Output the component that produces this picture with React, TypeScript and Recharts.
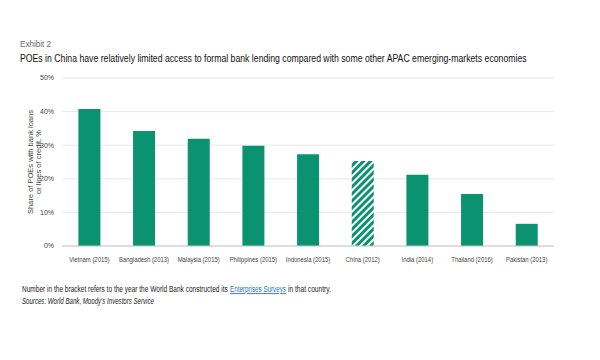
import React, { useLayoutEffect, useRef, useState } from 'react';
import { BarChart, Bar, XAxis, YAxis, CartesianGrid, Cell, Label } from 'recharts';

const countries = [
  'Vietnam (2015)',
  'Bangladesh (2013)',
  'Malaysia (2015)',
  'Philippines (2015)',
  'Indonesia (2015)',
  'China (2012)',
  'India  (2014)',
  'Thailand (2016)',
  'Pakistan (2013)',
];
const shares = [40.8, 34.2, 31.9, 29.8, 27.3, 25.3, 21.2, 15.5, 6.6];
const yTicks = [0, 10, 20, 30, 40, 50];
const highlight = 'China (2012)';

const GREEN = '#0a9271';
const sans = 'Liberation Sans, Arial, sans-serif';

const data = countries.map((name, i) => ({ name, share: shares[i] }));

// squeezes a text horizontally to a given width (the original uses a condensed face)
function FitText({ x, y, width, children, ...rest }: any) {
  const ref = useRef<SVGTextElement>(null);
  const [k, setK] = useState(1);
  useLayoutEffect(() => {
    if (ref.current) {
      const w = ref.current.getComputedTextLength();
      if (w > 0) setK(width / w);
    }
  }, [width]);
  return (
    <g transform={`translate(${x},${y}) scale(${k},1)`}>
      <text ref={ref} x={0} y={0} {...rest}>
        {children}
      </text>
    </g>
  );
}

function AxisTitle(props: any) {
  const { viewBox } = props;
  const cy = viewBox.y + viewBox.height / 2;
  const x = 36;
  return (
    <text
      transform={`rotate(-90, ${x}, ${cy})`}
      x={x}
      y={cy}
      textAnchor="middle"
      fontSize={7.5}
      fill="#444"
      fontFamily={sans}
    >
      <tspan x={x} dy={-3}>Share of POEs with bank loans</tspan>
      <tspan x={x} dy={8}>or lines of credit, %</tspan>
    </text>
  );
}

function CountryTick(props: any) {
  const { x, y, payload } = props;
  return (
    <g transform={`translate(${x},${y + 8}) scale(0.78,1)`}>
      <text x={0} y={0} textAnchor="middle" fontSize={7.6} fill="#444" fontFamily={sans}>
        {payload.value}
      </text>
    </g>
  );
}

export default function App() {
  return (
    <div style={{ position: 'absolute', left: 0, top: 0, width: 600, height: 360, background: '#fff' }}>
      <svg width={600} height={72} style={{ position: 'absolute', left: 0, top: 0 }}>
        <FitText x={20} y={47} width={31} fontSize={8.5} fill="#666" fontFamily={sans}>
          Exhibit 2
        </FitText>
        <FitText x={20} y={62} width={507} fontSize={11.5} fill="#111" fontFamily={sans}>
          POEs in China have relatively limited access to formal bank lending compared with some other APAC emerging-markets economies
        </FitText>
      </svg>

      <div style={{ position: 'absolute', left: 0, top: 70 }}>
        <BarChart
          width={600}
          height={200}
          data={data}
          margin={{ top: 8, right: 46, left: 22, bottom: 0 }}
          barCategoryGap="30%"
        >
          <defs>
            <pattern id="stripes" patternUnits="userSpaceOnUse" width="5" height="5" patternTransform="rotate(45)">
              <rect x="0" y="0" width="5" height="5" fill="#fff" />
              <rect x="0" y="0" width="3" height="5" fill={GREEN} />
            </pattern>
          </defs>
          <CartesianGrid vertical={false} stroke="#e8e8e8" />
          <XAxis
            dataKey="name"
            height={24}
            tickLine={false}
            axisLine={{ stroke: '#c8c8c8' }}
            interval={0}
            tick={<CountryTick />}
          />
          <YAxis
            width={40}
            domain={[0, 50]}
            ticks={yTicks}
            tickFormatter={(v: number) => `${v}%`}
            axisLine={false}
            tickLine={false}
            tick={{ fontSize: 7, fill: '#444', fontFamily: sans }}
          >
            <Label content={<AxisTitle />} />
          </YAxis>
          <Bar dataKey="share" isAnimationActive={false}>
            {data.map((d) => (
              <Cell key={d.name} fill={d.name === highlight ? 'url(#stripes)' : GREEN} />
            ))}
          </Bar>
        </BarChart>
      </div>

      <svg width={600} height={60} style={{ position: 'absolute', left: 0, top: 275 }}>
        <FitText x={22} y={17} width={206} fontSize={9} fill="#222" fontFamily={sans}>
          Number in the bracket refers to the year the World Bank constructed its
        </FitText>
        <FitText x={230} y={17} width={56} fontSize={9} fill="#2a78b8" fontFamily={sans} textDecoration="underline">
          Enterprises Surveys
        </FitText>
        <FitText x={288} y={17} width={43} fontSize={9} fill="#222" fontFamily={sans}>
          in that country.
        </FitText>
        <FitText x={22} y={29} width={132} fontSize={9} fill="#222" fontFamily={sans} fontStyle="italic">
          Sources: World Bank, Moody's Investors Service
        </FitText>
      </svg>
    </div>
  );
}
